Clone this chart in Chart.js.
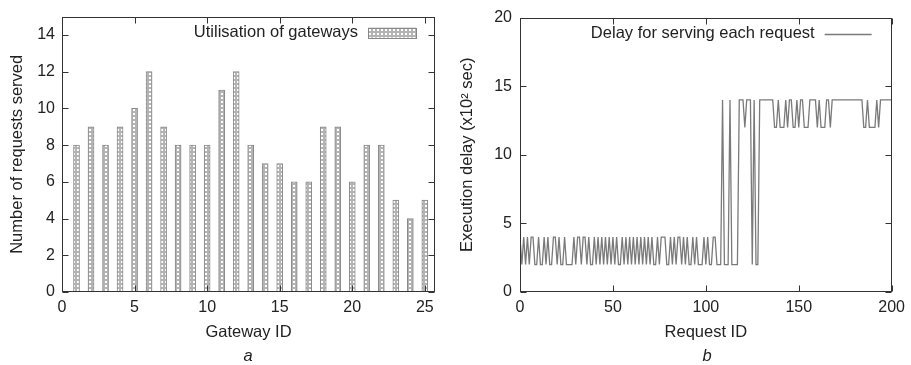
<!DOCTYPE html>
<html><head><meta charset="utf-8">
<script src="https://cdn.jsdelivr.net/npm/chart.js@4.4.1/dist/chart.umd.min.js"></script>
<style>
html,body{margin:0;padding:0;background:#fff;width:911px;height:365px;overflow:hidden;}
.box{position:absolute;top:0;height:365px;}
#wa{left:0;width:460px;}
#wb{left:455px;width:456px;}
.sub{position:absolute;top:345px;font:italic 16.5px "Liberation Sans",Arial,sans-serif;color:#222;width:40px;text-align:center;line-height:20px;}
</style></head><body>
<div class="box" id="wa"><canvas id="ca" width="460" height="365"></canvas></div>
<div class="box" id="wb"><canvas id="cb" width="456" height="365"></canvas></div>
<div class="sub" style="left:228px">a</div>
<div class="sub" style="left:687px">b</div>
<script>
// ---- data (chart a) ----
const gatewayIds = [1,2,3,4,5,6,7,8,9,10,11,12,13,14,15,16,17,18,19,20,21,22,23,24,25];
const requestsServed = [8,9,8,9,10,12,9,8,8,8,11,12,8,7,7,6,6,9,9,6,8,8,5,4,5];
const xTicksA = [0,5,10,15,20,25];
const yTicksA = [0,2,4,6,8,10,12,14];
// ---- data (chart b) ----
const delayValues = [
4,2,4,2,4,2,4,4,2,2,
4,2,2,4,2,4,2,2,4,4,
2,4,2,2,4,2,2,2,2,4,
2,4,4,2,4,4,2,4,2,2,
4,2,4,2,4,2,4,2,4,2,
4,2,4,2,2,4,2,4,2,4,
2,4,2,4,2,4,2,4,2,4,
2,4,2,2,4,2,4,4,4,2,
2,4,2,4,2,4,4,2,4,2,
4,2,2,4,2,4,2,2,2,4,
2,4,2,2,4,4,2,2,2,14,
2,2,2,14,2,2,2,2,14,14,
14,12,14,14,14,2,14,2,2,14,
14,14,14,14,14,14,14,12,12,14,
12,12,12,14,12,14,14,12,12,14,
12,14,14,12,12,12,14,14,14,14,
12,14,12,12,12,14,14,12,14,14,
14,14,14,14,14,14,14,14,14,14,
14,14,14,14,14,12,12,14,12,12,
12,12,14,12,14,14,14,14,14,14,
14];
const requestIds = delayValues.map((_, i) => i);
const xTicksB = [0,50,100,150,200];
const yTicksB = [0,5,10,15,20];

const FONT = '"Liberation Sans", Arial, Helvetica, sans-serif';
const TXT = '#222';
Chart.defaults.font.family = FONT;
Chart.defaults.font.size = 16;
Chart.defaults.color = TXT;

// bar fill pattern
function makePattern(){
  const c = document.createElement('canvas');
  c.width = 4; c.height = 4;
  const g = c.getContext('2d');
  g.fillStyle = '#b4b4b4'; g.fillRect(0,0,4,4);
  g.fillStyle = '#ffffff'; g.fillRect(1,1,2,2);
  return g.createPattern(c, 'repeat');
}
const pat = makePattern();

const gnuFrame = {
  id: 'gnuFrame',
  afterDatasetsDraw(chart, args, opts){
    const {ctx, chartArea: a, scales} = chart;
    const L = Math.round(a.left)+0.5, R = Math.round(a.right)-0.5, T = Math.round(a.top)+0.5, B = Math.round(a.bottom)-0.5;
    ctx.save();
    ctx.strokeStyle = '#333'; ctx.lineWidth = 1;
    ctx.beginPath();
    const tl = 6;
    scales.x.ticks.forEach(t => {
      const px = Math.round(scales.x.getPixelForValue(t.value))+0.5;
      ctx.moveTo(px, B); ctx.lineTo(px, B-tl);
      ctx.moveTo(px, T); ctx.lineTo(px, T+tl);
    });
    scales.y.ticks.forEach(t => {
      const py = Math.round(scales.y.getPixelForValue(t.value))+0.5;
      ctx.moveTo(L, py); ctx.lineTo(L+tl, py);
      ctx.moveTo(R, py); ctx.lineTo(R-tl, py);
    });
    ctx.stroke();
    ctx.strokeRect(L, T, R-L, B-T);
    // legend (gnuplot style, inside top right)
    const ds = chart.data.datasets[0];
    const ly = a.top + 16;
    ctx.font = '16.5px ' + FONT;
    ctx.fillStyle = TXT;
    ctx.textAlign = 'right'; ctx.textBaseline = 'middle';
    ctx.fillText(ds.label, a.right - 77, ly);
    if (opts.kind === 'bar') {
      ctx.fillStyle = pat;
      ctx.fillRect(a.right-67, ly-5, 48, 10);
      ctx.strokeStyle = '#888';
      ctx.strokeRect(Math.round(a.right-67)+0.5, Math.round(ly-5)+0.5, 48, 10);
    } else {
      ctx.strokeStyle = ds.borderColor; ctx.lineWidth = ds.borderWidth;
      ctx.beginPath();
      ctx.moveTo(a.right-67, Math.round(ly)+0.5); ctx.lineTo(a.right-20, Math.round(ly)+0.5);
      ctx.stroke();
    }
    ctx.restore();
  }
};

function axisX(ticksArr, min, max, title){
  return {
    type: 'linear', min, max, offset: false,
    afterBuildTicks: s => { s.ticks = ticksArr.map(v => ({value: v})); },
    afterFit: s => { s.height = 50; },
    grid: {display: false, drawTicks: false},
    border: {display: false},
    ticks: {padding: 6, color: TXT, font: {size: 16}, maxRotation: 0, autoSkip: false},
    title: {display: true, text: title, color: TXT, font: {size: 16.5}, padding: {top: 3, bottom: 0}}
  };
}
function axisY(ticksArr, min, max, title, w, tpad, lpad){
  return {
    type: 'linear', min, max,
    afterBuildTicks: s => { s.ticks = ticksArr.map(v => ({value: v})); },
    afterFit: s => { s.width = w; },
    grid: {display: false, drawTicks: false},
    border: {display: false},
    ticks: {padding: lpad, color: TXT, font: {size: 16}, autoSkip: false},
    title: {display: true, text: title, color: TXT, font: {size: 16.5}, padding: {top: tpad, bottom: 0}}
  };
}

new Chart(document.getElementById('ca'), {
  type: 'bar',
  data: {
    datasets: [{
      label: 'Utilisation of gateways',
      data: gatewayIds.map((id, i) => ({x: id, y: requestsServed[i]})),
      backgroundColor: pat,
      borderColor: '#8a8a8a',
      borderWidth: 1,
      borderSkipped: 'bottom',
      barThickness: 6
    }]
  },
  options: {
    responsive: false, animation: false, devicePixelRatio: 1,
    layout: {padding: {left: 0, top: 13, right: 25, bottom: 23}},
    plugins: {legend: {display: false}, tooltip: {enabled: false}, gnuFrame: {kind: 'bar'}},
    scales: {
      x: axisX(xTicksA, 0, 25.7, 'Gateway ID'),
      y: axisY(yTicksA, 0, 15, 'Number of requests served', 62, 8, 7)
    }
  },
  plugins: [gnuFrame]
});

new Chart(document.getElementById('cb'), {
  type: 'line',
  data: {
    datasets: [{
      label: 'Delay for serving each request',
      data: requestIds.map((id, i) => ({x: id, y: delayValues[i]})),
      borderColor: '#7a7a7a',
      borderWidth: 1.3,
      pointRadius: 0,
      tension: 0,
      fill: false
    }]
  },
  options: {
    responsive: false, animation: false, devicePixelRatio: 1,
    layout: {padding: {left: 0, top: 13, right: 18, bottom: 23}},
    plugins: {legend: {display: false}, tooltip: {enabled: false}, gnuFrame: {kind: 'line'}},
    scales: {
      x: axisX(xTicksB, 0, 200, 'Request ID'),
      y: axisY(yTicksB, 0, 20, 'Execution delay (x10² sec)', 65, 3, 8)
    }
  },
  plugins: [gnuFrame]
});
</script>
</body></html>
